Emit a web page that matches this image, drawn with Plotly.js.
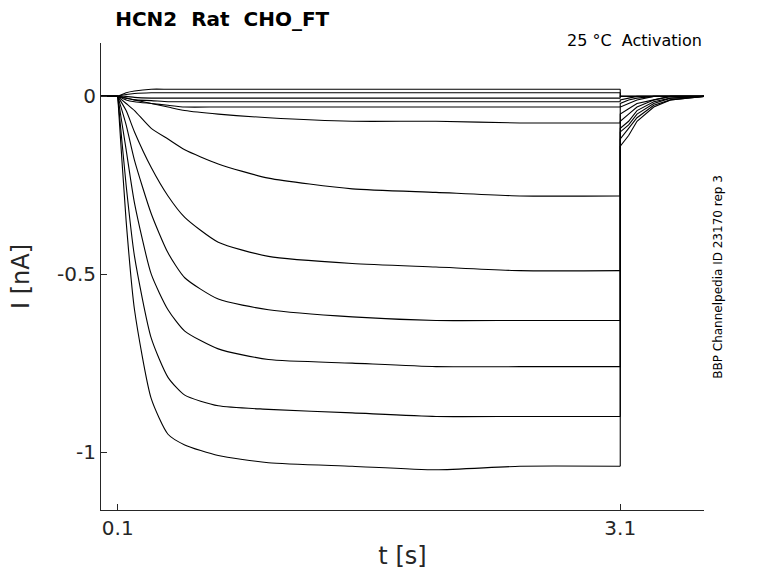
<!DOCTYPE html>
<html>
<head>
<meta charset="utf-8">
<script src="https://cdn.plot.ly/plotly-3.0.1.min.js"></script>
<style>html,body{margin:0;padding:0;background:#fff}#chart{width:778px;height:583px}</style>
</head>
<body>
<div id="chart"></div>
<script>
// time samples (s): holding, step, then tail after 3.1 s
const tPre = [0, 0.1];
const tStep = [0.1, 0.15, 0.2, 0.3, 0.4, 0.5, 0.7, 1.0, 1.5, 2.0, 2.5, 3.1];
const tTail = [3.1, 3.15, 3.2, 3.3, 3.4, 3.6];

// current during step (nA), one array per sweep
const stepCurrents = [
  [0, -0.35, -0.60, -0.85, -0.95, -0.98, -1.01, -1.03, -1.04, -1.05, -1.04, -1.04],
  [0, -0.25, -0.45, -0.68, -0.79, -0.84, -0.87, -0.88, -0.89, -0.90, -0.90, -0.90],
  [0, -0.15, -0.30, -0.50, -0.60, -0.66, -0.71, -0.74, -0.75, -0.76, -0.76, -0.76],
  [0, -0.08, -0.18, -0.33, -0.44, -0.51, -0.57, -0.60, -0.62, -0.63, -0.63, -0.63],
  [0, -0.04, -0.10, -0.20, -0.28, -0.34, -0.41, -0.45, -0.47, -0.48, -0.49, -0.49],
  [0, -0.02, -0.04, -0.09, -0.12, -0.15, -0.19, -0.23, -0.26, -0.27, -0.28, -0.28],
  [0, -0.005, -0.01, -0.02, -0.03, -0.04, -0.05, -0.06, -0.07, -0.07, -0.075, -0.075],
  [0, -0.01, -0.015, -0.02, -0.025, -0.03, -0.03, -0.03, -0.03, -0.03, -0.03, -0.03],
  [0, -0.005, -0.01, -0.012, -0.015, -0.015, -0.015, -0.015, -0.015, -0.015, -0.015, -0.015],
  [0, 0, -0.003, -0.005, -0.005, -0.005, -0.005, -0.005, -0.005, -0.005, -0.005, -0.005],
  [0, 0.005, 0.008, 0.01, 0.01, 0.01, 0.01, 0.01, 0.01, 0.01, 0.01, 0.01],
  [0, 0.01, 0.015, 0.02, 0.02, 0.02, 0.02, 0.02, 0.02, 0.02, 0.02, 0.02]
];

// tail current after the step (nA)
const tailCurrents = [
  [-0.14, -0.11, -0.07, -0.03, -0.01, 0],
  [-0.12, -0.09, -0.06, -0.025, -0.01, 0],
  [-0.10, -0.08, -0.05, -0.02, -0.005, 0],
  [-0.09, -0.07, -0.04, -0.015, -0.005, 0],
  [-0.07, -0.05, -0.03, -0.01, 0, 0],
  [-0.05, -0.035, -0.02, -0.01, 0, 0],
  [-0.03, -0.02, -0.01, 0, 0, 0],
  [-0.02, -0.01, -0.005, 0, 0, 0],
  [-0.01, -0.005, 0, 0, 0, 0],
  [0, 0, 0, 0, 0, 0],
  [0, 0, 0, 0, 0, 0],
  [0, 0, 0, 0, 0, 0]
];

const traces = [];
stepCurrents.forEach((step, i) => {
  // holding + step drawn smooth, tail as separate segment so the jump stays sharp
  traces.push({
    x: tPre.concat(tStep),
    y: [0, 0].concat(step),
    mode: 'lines',
    line: { color: '#000000', width: 1.1, shape: 'spline', smoothing: 0.6 },
    hoverinfo: 'skip', showlegend: false
  });
  traces.push({
    x: [tStep[tStep.length - 1]].concat(tTail),
    y: [step[step.length - 1]].concat(tailCurrents[i]),
    mode: 'lines',
    line: { color: '#000000', width: 1.1 },
    hoverinfo: 'skip', showlegend: false
  });
});

const font = 'DejaVu Sans, sans-serif';
const layout = {
  width: 778, height: 583,
  margin: { l: 101, r: 74, t: 43, b: 73 },
  paper_bgcolor: '#ffffff',
  plot_bgcolor: '#ffffff',
  font: { family: font, color: '#262626' },
  title: {
    text: '<b>HCN2  Rat  CHO_FT</b>',
    font: { family: font, size: 20, color: '#000' },
    x: 0.148, xanchor: 'left', y: 0.968, yanchor: 'middle'
  },
  xaxis: {
    range: [0, 3.6],
    tickvals: [0.1, 3.1],
    ticktext: ['0.1', '3.1'],
    ticks: 'inside', ticklen: 6, tickcolor: '#262626',
    showline: true, linecolor: '#262626', linewidth: 1,
    showgrid: false, zeroline: false,
    tickfont: { size: 20 },
    title: { text: 't [s]', font: { size: 24 }, standoff: 8 }
  },
  yaxis: {
    range: [-1.163, 0.15],
    tickvals: [-1, -0.5, 0],
    ticktext: ['-1', '-0.5', '0'],
    ticks: 'inside', ticklen: 6, tickcolor: '#262626',
    showline: true, linecolor: '#262626', linewidth: 1,
    showgrid: false, zeroline: false,
    tickfont: { size: 20 },
    title: { text: 'I [nA]', font: { size: 24 }, standoff: 20 }
  },
  annotations: [
    {
      text: '25 °C  Activation', xref: 'paper', yref: 'paper',
      x: 1, y: 1.03, xanchor: 'right', yanchor: 'top', showarrow: false,
      font: { family: font, size: 16, color: '#000' }
    },
    {
      text: 'BBP Channelpedia ID 23170 rep 3', xref: 'paper', yref: 'paper',
      x: 1.022, y: 0.5, xanchor: 'center', yanchor: 'middle', textangle: -90,
      showarrow: false, font: { family: font, size: 12, color: '#000' }
    }
  ]
};

Plotly.newPlot('chart', traces, layout, { displayModeBar: false, staticPlot: true });
</script>
</body>
</html>
